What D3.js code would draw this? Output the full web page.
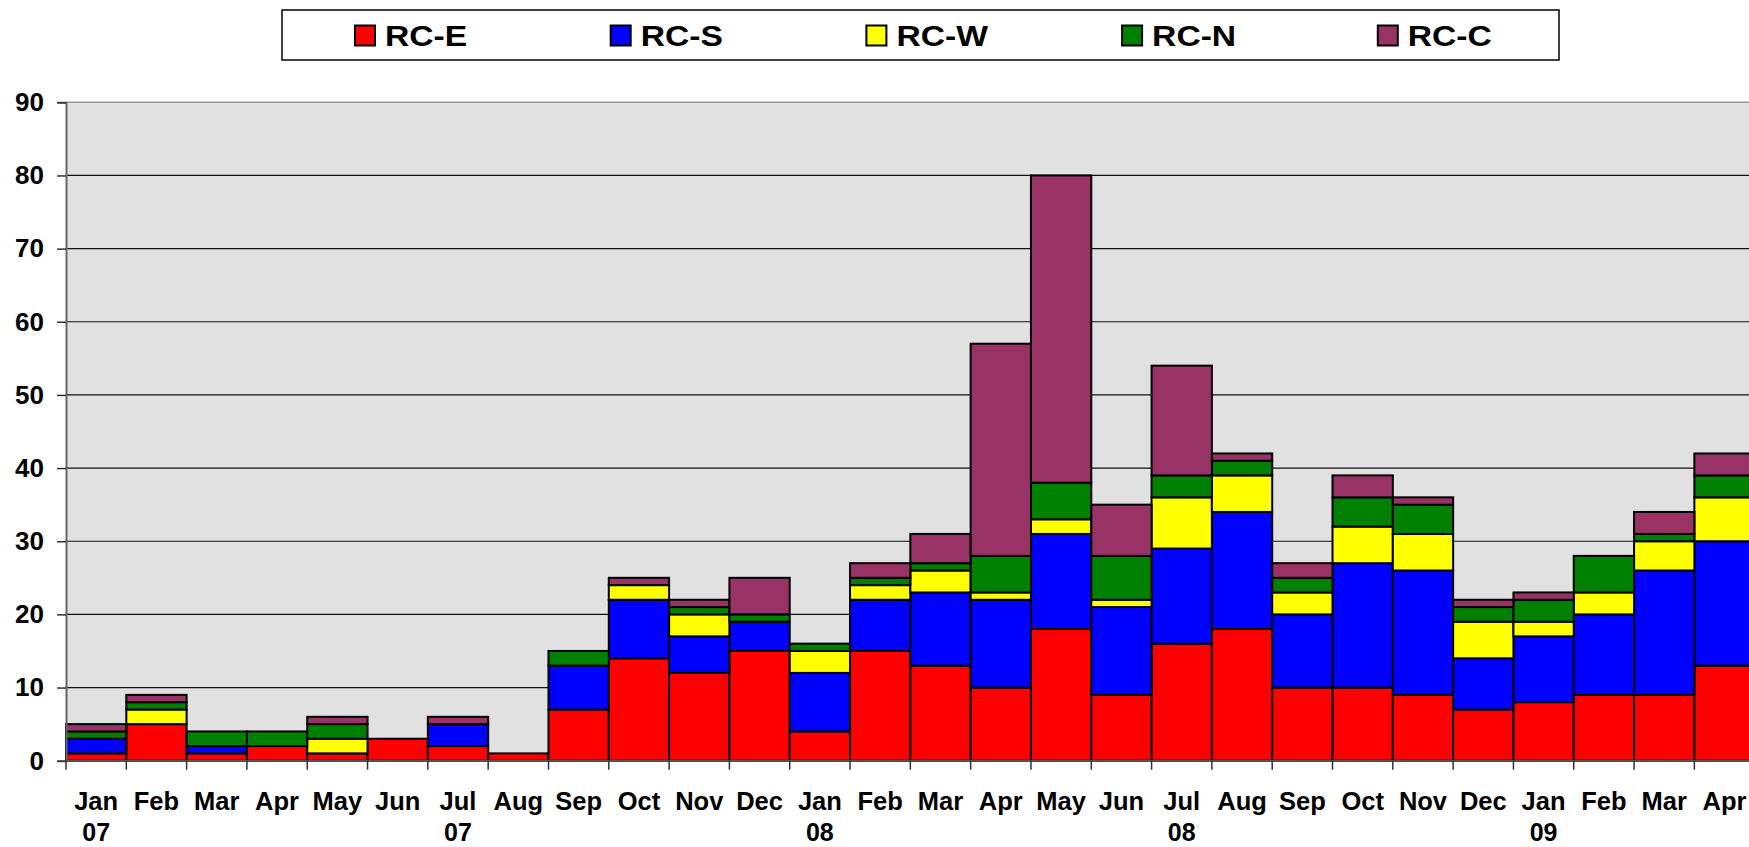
<!DOCTYPE html>
<html>
<head>
<meta charset="utf-8">
<script src="https://cdn.jsdelivr.net/npm/d3@7"></script>
<style>
  html, body { margin: 0; padding: 0; background: #fff; overflow: hidden; }
  svg { display: block; font-family: "Liberation Sans", Arial, sans-serif; font-weight: bold; }
</style>
</head>
<body>
<svg class="chart-rc" width="1749" height="847"></svg>
<script>
/* months Jan 07 .. Apr 09 */
var months = ['Jan','Feb','Mar','Apr','May','Jun','Jul','Aug','Sep','Oct','Nov','Dec',
              'Jan','Feb','Mar','Apr','May','Jun','Jul','Aug','Sep','Oct','Nov','Dec',
              'Jan','Feb','Mar','Apr'];
var years  = ['07','','','','','','07','','','','','',
              '08','','','','','','08','','','','','',
              '09','','',''];

var seriesNames = ['RC-E', 'RC-S', 'RC-W', 'RC-N', 'RC-C'];
var seriesColors = ['#ff0000', '#0000ff', '#ffff00', '#008000', '#993366'];

var rcE = [1,5,1,2,1,3,2,1,7,14,12,15, 4,15,13,10,18,9,16,18,10,10,9,7, 8,9,9,13];
var rcS = [2,0,1,0,0,0,3,0,6,8,5,4,    8,7,10,12,13,12,13,16,10,17,17,7, 9,11,17,17];
var rcW = [0,2,0,0,2,0,0,0,0,2,3,0,    3,2,3,1,2,1,7,5,3,5,5,5, 2,3,4,6];
var rcN = [1,1,2,2,2,0,0,0,2,0,1,1,    1,1,1,5,5,6,3,2,2,4,4,2, 3,5,1,3];
var rcC = [1,1,0,0,1,0,1,0,0,1,1,5,    0,2,4,29,42,7,15,1,2,3,1,1, 1,0,3,3];

var yTicks = [0,10,20,30,40,50,60,70,80,90];

/*** layout ***/
var plot = { left: 66, top: 102.3, bottom: 760.7, band: 60.31 };
plot.right = plot.left + plot.band * months.length;   // runs a little past the window

var svg = d3.select('svg.chart-rc');

var x = d3.scaleBand()
    .domain(d3.range(months.length))
    .range([plot.left, plot.right])
    .paddingInner(0).paddingOuter(0);

var y = d3.scaleLinear()
    .domain([0, 90])
    .range([plot.bottom, plot.top]);

/* table for the stack */
var table = months.map(function (m, i) {
    return { i: i, 'RC-E': rcE[i], 'RC-S': rcS[i], 'RC-W': rcW[i], 'RC-N': rcN[i], 'RC-C': rcC[i] };
});
var stacked = d3.stack().keys(seriesNames)(table);

/*** plot area ***/
svg.append('rect')
    .attr('x', plot.left).attr('y', plot.top)
    .attr('width', plot.right - plot.left)
    .attr('height', plot.bottom - plot.top)
    .attr('fill', '#e1e1e1');

// gridlines
svg.selectAll('line.grid')
    .data(yTicks.filter(function (d) { return d > 0 && d < 90; }))
    .enter()
    .append('line')
    .attr('class', 'grid')
    .attr('x1', plot.left).attr('x2', plot.right)
    .attr('y1', function (d) { return y(d); })
    .attr('y2', function (d) { return y(d); })
    .attr('stroke', '#111')
    .attr('stroke-width', 1.2);

// top border
svg.append('line')
    .attr('x1', plot.left).attr('x2', plot.right)
    .attr('y1', y(90)).attr('y2', y(90))
    .attr('stroke', '#999').attr('stroke-width', 1.5);

/*** bars ***/
svg.selectAll('g.series')
    .data(stacked)
    .enter()
    .append('g')
    .attr('class', 'series')
    .attr('fill', function (d, k) { return seriesColors[k]; })
    .selectAll('rect')
    .data(function (d) { return d.filter(function (s) { return s[1] > s[0]; }); })
    .enter()
    .append('rect')
    .attr('x', function (d) { return x(d.data.i); })
    .attr('width', x.bandwidth())
    .attr('y', function (d) { return y(d[1]); })
    .attr('height', function (d) { return y(d[0]) - y(d[1]); })
    .attr('stroke', '#000')
    .attr('stroke-width', 2);

/*** axes ***/
var yAxis = svg.append('g')
    .attr('transform', 'translate(' + plot.left + ',0)')
    .call(d3.axisLeft(y).tickValues(yTicks).tickSize(9).tickPadding(13));
yAxis.select('.domain').attr('stroke', '#666').attr('stroke-width', 2);
yAxis.selectAll('.tick line').attr('stroke', '#333').attr('stroke-width', 1.5);
yAxis.selectAll('.tick text')
    .attr('font-size', 26).attr('font-family', '"Liberation Sans", Arial, sans-serif')
    .attr('font-weight', 'bold').attr('fill', '#000');

var xTickPos = d3.range(months.length + 1).map(function (i) { return plot.left + i * x.bandwidth(); });
svg.append('line')
    .attr('x1', plot.left).attr('x2', plot.right)
    .attr('y1', plot.bottom).attr('y2', plot.bottom)
    .attr('stroke', '#555').attr('stroke-width', 2);
svg.selectAll('line.xtick')
    .data(xTickPos)
    .enter()
    .append('line')
    .attr('class', 'xtick')
    .attr('x1', function (d) { return d; }).attr('x2', function (d) { return d; })
    .attr('y1', plot.bottom).attr('y2', plot.bottom + 9)
    .attr('stroke', '#333').attr('stroke-width', 1.5);

svg.selectAll('text.month')
    .data(months)
    .enter()
    .append('text')
    .attr('class', 'month')
    .attr('x', function (d, i) { return x(i) + x.bandwidth() / 2; })
    .attr('y', 810)
    .attr('text-anchor', 'middle')
    .attr('font-size', 25.5)
    .text(function (d) { return d; });

svg.selectAll('text.year')
    .data(years)
    .enter()
    .append('text')
    .attr('class', 'year')
    .attr('x', function (d, i) { return x(i) + x.bandwidth() / 2; })
    .attr('y', 841)
    .attr('text-anchor', 'middle')
    .attr('font-size', 25)
    .text(function (d) { return d; });

/*** legend ***/
var legend = { x: 282, y: 10, w: 1277, h: 50, first: 355, step: 255.7, sw: 20 };
svg.append('rect')
    .attr('x', legend.x).attr('y', legend.y)
    .attr('width', legend.w).attr('height', legend.h)
    .attr('fill', '#fff').attr('stroke', '#000').attr('stroke-width', 1.5);

var items = svg.selectAll('g.legend-item')
    .data(seriesNames)
    .enter()
    .append('g')
    .attr('class', 'legend-item')
    .attr('transform', function (d, i) {
        return 'translate(' + (legend.first + i * legend.step) + ',' + (legend.y + legend.h / 2) + ')';
    });
items.append('rect')
    .attr('x', 0).attr('y', -legend.sw / 2 + 0.5)
    .attr('width', legend.sw).attr('height', legend.sw)
    .attr('fill', function (d, i) { return seriesColors[i]; })
    .attr('stroke', '#000').attr('stroke-width', 2);
// legend text is drawn a bit wider than the font in the original
items.append('text')
    .attr('transform', 'translate(30,11) scale(1.16,1)')
    .attr('font-size', 29)
    .text(function (d) { return d; });
</script>
</body>
</html>
